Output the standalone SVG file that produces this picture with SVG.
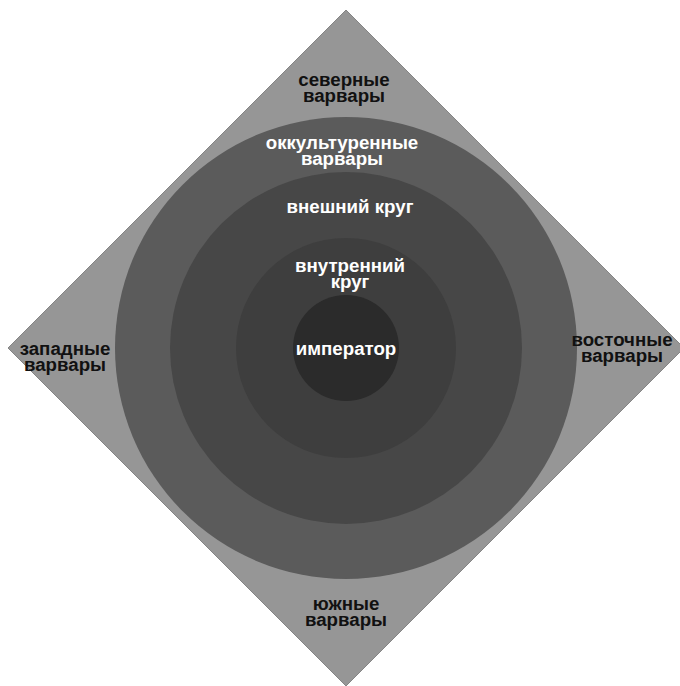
<svg xmlns="http://www.w3.org/2000/svg" width="680" height="686" viewBox="0 0 680 686">
<style>
text{font-family:"Liberation Sans",Arial,sans-serif;font-weight:bold;font-size:18.7px;text-anchor:middle}
.d{fill:#111}
.w{fill:#fff}
</style>
<rect width="680" height="686" fill="#fff"/>
<g id="diamond">
<polygon points="346,10 684,348 346,686 8,348" fill="#969696" stroke="#858585" stroke-width="1"/>
</g>
<g id="ring-occult"><circle cx="346" cy="348" r="231" fill="#5b5b5b"/></g>
<g id="ring-outer"><circle cx="346" cy="348" r="176" fill="#474747"/></g>
<g id="ring-inner"><circle cx="346" cy="348" r="110" fill="#3e3e3e"/></g>
<g id="emperor"><circle cx="346" cy="348" r="53" fill="#2b2b2b"/></g>
<g id="connectors"></g>
<g id="labels">
<g id="north"><text class="d" x="344" y="86">северные</text><text class="d" x="344" y="101.5">варвары</text></g>
<g id="west"><text class="d" x="65" y="355">западные</text><text class="d" x="65" y="370.5">варвары</text></g>
<g id="east"><text class="d" x="622" y="346">восточные</text><text class="d" x="622" y="361.5">варвары</text></g>
<g id="south"><text class="d" x="346" y="610">южные</text><text class="d" x="346" y="625.5">варвары</text></g>
<g id="occult-label"><text class="w" x="342" y="149">оккультуренные</text><text class="w" x="342" y="164.5">варвары</text></g>
<g id="outer-label"><text class="w" x="350" y="213">внешний круг</text></g>
<g id="inner-label"><text class="w" x="350" y="272">внутренний</text><text class="w" x="350" y="287.5">круг</text></g>
<g id="emperor-label"><text class="w" x="346" y="355">император</text></g>
</g>
</svg>
